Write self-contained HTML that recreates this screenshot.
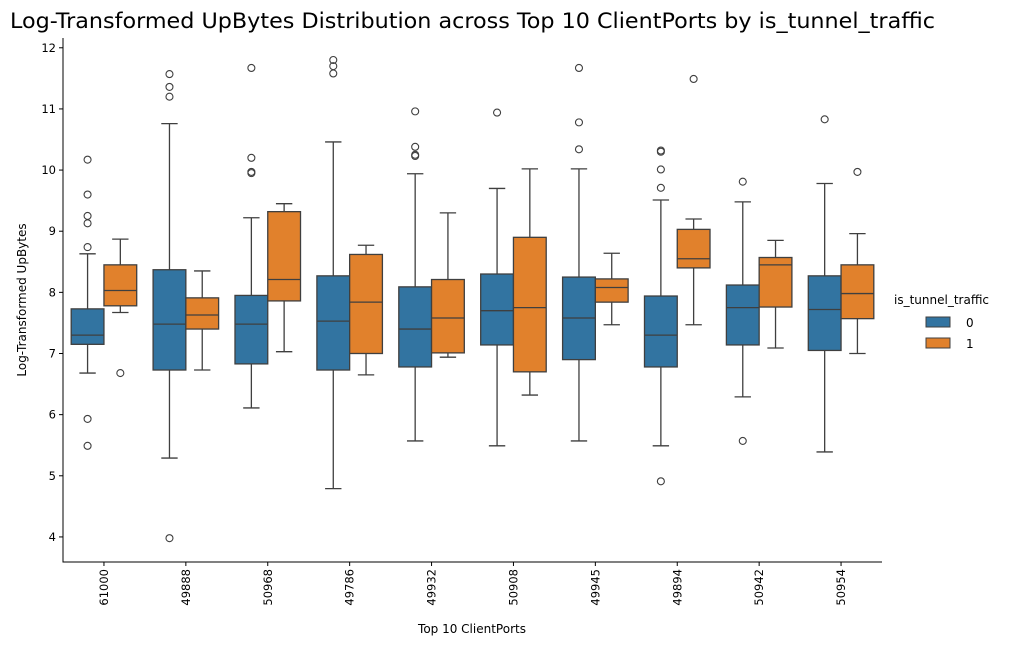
<!DOCTYPE html>
<html><head><meta charset="utf-8"><style>
body{margin:0;background:#fff;font-family:"Liberation Sans","DejaVu Sans",sans-serif;}
svg text{font-family:"DejaVu Sans","Liberation Sans",sans-serif;}
</style></head><body>
<svg id="chart" width="1017" height="646" xmlns="http://www.w3.org/2000/svg">
<text x="10" y="28" font-size="21" textLength="925" lengthAdjust="spacingAndGlyphs" fill="#000">Log-Transformed UpBytes Distribution across Top 10 ClientPorts by is_tunnel_traffic</text>
<g id="plot"></g>
<text transform="translate(26,300) rotate(-90)" text-anchor="middle" font-size="12">Log-Transformed UpBytes</text>
<text x="472" y="633" text-anchor="middle" font-size="12">Top 10 ClientPorts</text>
<g>
<text x="894" y="304" font-size="12">is_tunnel_traffic</text>
<rect x="926" y="317" width="24" height="10" fill="#3274a1" stroke="#3f3f3f" stroke-width="1"/>
<text x="966" y="327" font-size="12">0</text>
<rect x="926" y="338" width="24" height="10" fill="#e1812c" stroke="#3f3f3f" stroke-width="1"/>
<text x="966" y="348" font-size="12">1</text>
</g>
</svg>
<script>
const categories=["61000","49888","50968","49786","49932","50908","49945","49894","50942","50954"];
// [whiskerLow, q1, median, q3, whiskerHigh]
const stats0=[[6.68,7.15,7.3,7.73,8.63],[5.29,6.73,7.48,8.37,10.76],[6.11,6.83,7.48,7.95,9.22],[4.79,6.73,7.53,8.27,10.46],[5.57,6.78,7.4,8.09,9.94],[5.49,7.14,7.7,8.3,9.7],[5.57,6.9,7.58,8.25,10.02],[5.49,6.78,7.3,7.94,9.51],[6.29,7.14,7.75,8.12,9.48],[5.39,7.05,7.72,8.27,9.78]];
const stats1=[[7.67,7.78,8.03,8.45,8.87],[6.73,7.4,7.63,7.91,8.35],[7.03,7.86,8.21,9.32,9.45],[6.65,7.0,7.84,8.62,8.77],[6.94,7.01,7.58,8.21,9.3],[6.32,6.7,7.75,8.9,10.02],[7.47,7.84,8.08,8.22,8.64],[7.47,8.4,8.55,9.03,9.2],[7.09,7.76,8.45,8.57,8.85],[7.0,7.57,7.98,8.45,8.96]];
const outliers0=[[10.17,9.6,9.25,9.13,8.74,5.93,5.49],[11.57,11.36,11.2,3.98],[11.67,10.2,9.97,9.95],[11.8,11.7,11.58],[10.96,10.38,10.25,10.23],[10.94],[11.67,10.78,10.34],[10.32,10.3,10.01,9.71,4.91],[9.81,5.57],[10.83]];
const outliers1=[[6.68],[],[],[],[],[],[],[11.49],[],[9.97]];
const yTicks=[4,5,6,7,8,9,10,11,12];
const L=63,R=882,T=38,B=562,yMin=3.59,yMax=12.16;
const NS="http://www.w3.org/2000/svg";
const g=document.getElementById('plot');
const y=v=>B-(v-yMin)/(yMax-yMin)*(B-T);
const step=(R-L)/categories.length;
const xc=i=>L+step*(i+0.5);
function mk(tag,a,p){const e=document.createElementNS(NS,tag);for(const k in a)e.setAttribute(k,a[k]);(p||g).appendChild(e);return e;}
const ax=mk('path',{d:`M${L},${T}V${B}H${R}`,fill:'none',stroke:'#000','stroke-width':1});


yTicks.forEach(t=>{
 const tk=mk('line',{x1:L-4,x2:L,y1:y(t),y2:y(t),stroke:'#000'});
 
 
 const tx=mk('text',{x:L-7,y:y(t)+4,'text-anchor':'end','font-size':11.5});
 
 
 tx.textContent=t;
});
const bw=step*0.4;
function box(s,outs,x0,color,name){
 const cx=x0+bw/2;
 const w=mk('path',{d:`M${cx},${y(s[0])}V${y(s[1])}M${cx},${y(s[3])}V${y(s[4])}M${cx-bw/4},${y(s[0])}H${cx+bw/4}M${cx-bw/4},${y(s[4])}H${cx+bw/4}`,stroke:'#3f3f3f','stroke-width':1.3,fill:'none'});
 
 
 const r=mk('rect',{x:x0,y:y(s[3]),width:bw,height:y(s[1])-y(s[3]),fill:color,stroke:'#3f3f3f','stroke-width':1.3});
 
 
 const m=mk('line',{x1:x0,x2:x0+bw,y1:y(s[2]),y2:y(s[2]),stroke:'#3f3f3f','stroke-width':1.3});
 
 
 outs.forEach(o=>{
  const c=mk('circle',{cx:cx,cy:y(o),r:3.5,fill:'none',stroke:'#3f3f3f','stroke-width':1.1});
  
  
 });
}
categories.forEach((c,i)=>{
 box(stats0[i],outliers0[i],xc(i)-bw,'#3274a1','box-'+c+'-0');
 box(stats1[i],outliers1[i],xc(i),'#e1812c','box-'+c+'-1');
 const tk=mk('line',{x1:xc(i),x2:xc(i),y1:B,y2:B+4,stroke:'#000'});
 
 
 const tx=mk('text',{transform:`translate(${xc(i)+4},${B+7}) rotate(-90)`,'text-anchor':'end','font-size':11.5});
 
 
 tx.textContent=c;
});
</script>
</body></html>
